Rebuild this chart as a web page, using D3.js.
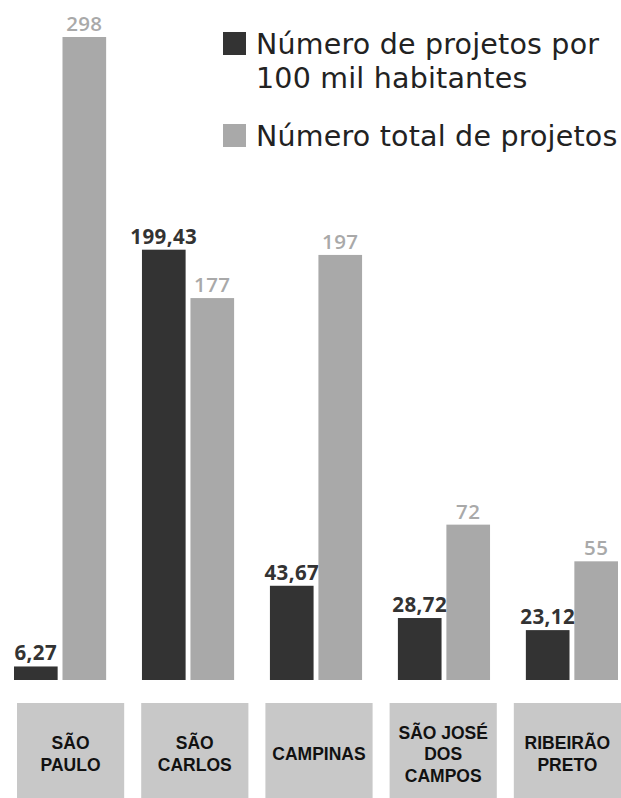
<!DOCTYPE html>
<html>
<head>
<meta charset="utf-8">
<script src="https://cdn.jsdelivr.net/npm/d3@7"></script>
<style>
  html, body { margin: 0; padding: 0; background: #fff; }
  svg { display: block; }
</style>
</head>
<body>
<svg id="chart" width="621" height="798"></svg>
<script>
// ---- data ----
const cities = ["SÃO PAULO", "SÃO CARLOS", "CAMPINAS", "SÃO JOSÉ DOS CAMPOS", "RIBEIRÃO PRETO"];
const cityLines = [["SÃO", "PAULO"], ["SÃO", "CARLOS"], ["CAMPINAS"], ["SÃO JOSÉ", "DOS", "CAMPOS"], ["RIBEIRÃO", "PRETO"]];
const perCapita = [6.27, 199.43, 43.67, 28.72, 23.12];
const totals = [298, 177, 197, 72, 55];
const perCapitaLabels = ["6,27", "199,43", "43,67", "28,72", "23,12"];
const totalLabels = ["298", "177", "197", "72", "55"];
const seriesNames = ["Número de projetos por 100 mil habitantes", "Número total de projetos"];
const legendLines = [["Número de projetos por", "100 mil habitantes"], ["Número total de projetos"]];

// ---- styles ----
const darkColor = "#333333";
const lightColor = "#a9a9a9";
const boxColor = "#c8c8c8";

const svg = d3.select("#chart");

const x = d3.scaleBand().domain(cities).range([14, 618]).paddingInner(0.28).paddingOuter(0);
const xs = d3.scaleBand().domain([0, 1]).range([0, x.bandwidth()]).paddingInner(0.1);
const y = d3.scaleLinear().domain([0, 298]).range([680, 37]);

const rows = cities.map((c, i) => ({
  city: c,
  vals: [
    { s: 0, v: perCapita[i], lab: perCapitaLabels[i] },
    { s: 1, v: totals[i], lab: totalLabels[i] }
  ]
}));

const g = svg.selectAll("g.grp").data(rows).join("g")
  .attr("class", "grp")
  .attr("transform", d => `translate(${x(d.city)},0)`);

g.selectAll("rect").data(d => d.vals).join("rect")
  .attr("x", d => xs(d.s))
  .attr("width", xs.bandwidth())
  .attr("y", d => y(d.v))
  .attr("height", d => y(0) - y(d.v))
  .attr("fill", d => d.s === 0 ? darkColor : lightColor);

g.selectAll("text.val").data(d => d.vals).join("text")
  .attr("class", "val")
  .attr("x", d => xs(d.s) + xs.bandwidth() / 2)
  .attr("y", d => y(d.v) - 6)
  .attr("text-anchor", "middle")
  .attr("font-family", "'Open Sans', sans-serif")
  .attr("font-weight", d => d.s === 0 ? 700 : 600)
  .attr("font-size", 20.5)
  .attr("letter-spacing", 0.4)
  .attr("fill", d => d.s === 0 ? darkColor : lightColor)
  .text(d => d.lab);

// ---- category boxes ----
const xb = d3.scaleBand().domain(cities).range([17, 621]).paddingInner(0.137).paddingOuter(0);
const boxes = svg.selectAll("g.box").data(cities).join("g")
  .attr("class", "box")
  .attr("transform", d => `translate(${xb(d)},0)`);
boxes.append("rect")
  .attr("x", 0).attr("y", 703)
  .attr("width", xb.bandwidth()).attr("height", 100)
  .attr("fill", boxColor);
boxes.each(function(d, i) {
  const lines = cityLines[i];
  const n = lines.length;
  d3.select(this).selectAll("text").data(lines).join("text")
    .attr("x", xb.bandwidth() / 2)
    .attr("y", (l, j) => 760 + (j - (n - 1) / 2) * 21.5)
    .attr("text-anchor", "middle")
    .attr("font-family", "'Liberation Sans', Arial, sans-serif")
    .attr("font-weight", 700)
    .attr("font-size", 17.5)
    .attr("fill", "#111")
    .text(l => l);
});

// ---- legend ----
const legendColors = [darkColor, lightColor];
const legendY = [32, 124];
const legendBase = [[54, 88], [146]];
const lg = svg.selectAll("g.leg").data(seriesNames).join("g").attr("class", "leg");
lg.append("rect")
  .attr("x", 223).attr("y", (d, i) => legendY[i])
  .attr("width", 23).attr("height", 23)
  .attr("fill", (d, i) => legendColors[i]);
lg.each(function(d, i) {
  d3.select(this).selectAll("text").data(legendLines[i]).join("text")
    .attr("x", 256)
    .attr("y", (l, j) => legendBase[i][j])
    .attr("font-family", "'DejaVu Sans', sans-serif")
    .attr("font-size", 28.5)
    .attr("letter-spacing", 0.2)
    .attr("fill", "#222")
    .text(l => l);
});
</script>
</body>
</html>
